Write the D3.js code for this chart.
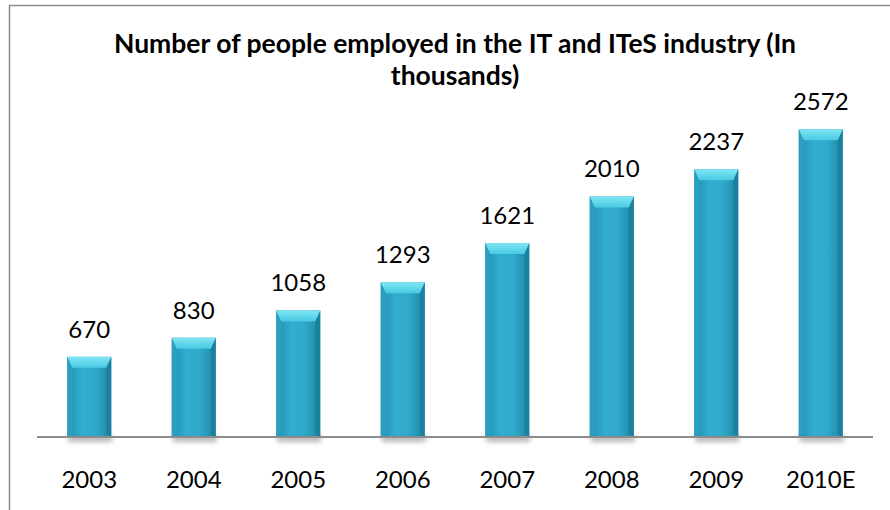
<!doctype html>
<html lang="en">
<head>
    <title>IT and ITeS employment</title>
    <script src="https://d3js.org/d3.v7.min.js"></script>
    <style>
        body { margin: 0; background: #fff; }
        text { font-family: Lato, "Open Sans", sans-serif; }
    </style>
</head>
<body>
<script>
    // Chart data
    const years  = ["2003", "2004", "2005", "2006", "2007", "2008", "2009", "2010E"];
    const people = [670, 830, 1058, 1293, 1621, 2010, 2237, 2572];
    const titleLines = ["Number of people employed in the IT and ITeS industry (In", "thousands)"];

    const width = 890, height = 510;
    const baseY = 437;

    const svg = d3.select("body").append("svg")
        .attr("width", width)
        .attr("height", height);

    // gradients for the bevelled bars
    const defs = svg.append("defs");
    const body = defs.append("linearGradient").attr("id", "barBody")
        .attr("x1", 0).attr("x2", 1).attr("y1", 0).attr("y2", 0);
    body.append("stop").attr("offset", "0%").attr("stop-color", "#2090b0");
    body.append("stop").attr("offset", "35%").attr("stop-color", "#33aed0");
    body.append("stop").attr("offset", "65%").attr("stop-color", "#30a8c9");
    body.append("stop").attr("offset", "100%").attr("stop-color", "#1e86a3");

    const topG = defs.append("linearGradient").attr("id", "barTop")
        .attr("x1", 0).attr("x2", 0).attr("y1", 0).attr("y2", 1);
    topG.append("stop").attr("offset", "0%").attr("stop-color", "#80e6f4");
    topG.append("stop").attr("offset", "100%").attr("stop-color", "#48c9e3");

    const blur = defs.append("filter").attr("id", "shadow")
        .attr("x", "-30%").attr("y", "-100%").attr("width", "160%").attr("height", "300%");
    blur.append("feGaussianBlur").attr("stdDeviation", 2.5);

    // outer frame (only top and left edges are visible in the crop)
    svg.append("path")
        .attr("d", `M9.5,${height} V5.5 H${width}`)
        .attr("fill", "none")
        .attr("stroke", "#8c8c8c")
        .attr("stroke-width", 1.5);

    // title
    svg.append("text")
        .attr("x", 455)
        .attr("text-anchor", "middle")
        .attr("font-weight", "bold")
        .attr("font-size", 26.5)
        .attr("fill", "#000")
        .selectAll("tspan")
        .data(titleLines)
        .join("tspan")
        .attr("x", 455)
        .attr("y", (d, i) => 53 + i * 32)
        .text(d => d);

    // scales
    const x = d3.scaleBand()
        .domain(years)
        .range([37, 873])
        .paddingInner(0.579)
        .paddingOuter(0.2895);

    const y = d3.scaleLinear()
        .domain([0, 3000])
        .range([baseY, 78]);

    const data = years.map((yr, i) => ({ year: yr, value: people[i] }));
    const bw = x.bandwidth();

    // shadows under the bars
    svg.append("g").selectAll("rect")
        .data(data)
        .join("rect")
        .attr("x", d => x(d.year) + 1)
        .attr("y", baseY - 2)
        .attr("width", bw)
        .attr("height", 7)
        .attr("fill", "#9a9a9a")
        .attr("opacity", 0.7)
        .attr("filter", "url(#shadow)");

    const bars = svg.append("g").selectAll("g")
        .data(data)
        .join("g")
        .attr("transform", d => `translate(${x(d.year)},${y(d.value)})`);

    // main body
    bars.append("rect")
        .attr("width", bw)
        .attr("height", d => baseY - y(d.value))
        .attr("fill", "url(#barBody)");

    // bevel: left and right edges
    const side = 5, topH = 11;
    bars.append("path")
        .attr("d", d => `M0,0 L${side},${topH} L${side},${baseY - y(d.value) - 3} L0,${baseY - y(d.value)} Z`)
        .attr("fill", "#2c9fc2")
        .attr("opacity", 0.9);
    bars.append("path")
        .attr("d", d => `M${bw},0 L${bw - side},${topH} L${bw - side},${baseY - y(d.value) - 3} L${bw},${baseY - y(d.value)} Z`)
        .attr("fill", "#1b7f9d")
        .attr("opacity", 0.9);

    // bevel: top highlight
    bars.append("path")
        .attr("d", `M0,0 L${bw},0 L${bw - side},${topH} L${side},${topH} Z`)
        .attr("fill", "url(#barTop)");

    // baseline
    svg.append("line")
        .attr("x1", 37).attr("x2", 873)
        .attr("y1", baseY).attr("y2", baseY)
        .attr("stroke", "#8c8c8c")
        .attr("stroke-width", 2);

    // value labels
    svg.append("g").selectAll("text")
        .data(data)
        .join("text")
        .attr("x", d => x(d.year) + bw / 2)
        .attr("y", d => y(d.value) - 19)
        .attr("text-anchor", "middle")
        .attr("font-size", 24)
        .attr("fill", "#000")
        .text(d => d.value);

    // category labels
    svg.append("g").selectAll("text")
        .data(years)
        .join("text")
        .attr("x", d => x(d) + bw / 2)
        .attr("y", 488)
        .attr("text-anchor", "middle")
        .attr("font-size", 24)
        .attr("fill", "#000")
        .text(d => d);
</script>
</body>
</html>
